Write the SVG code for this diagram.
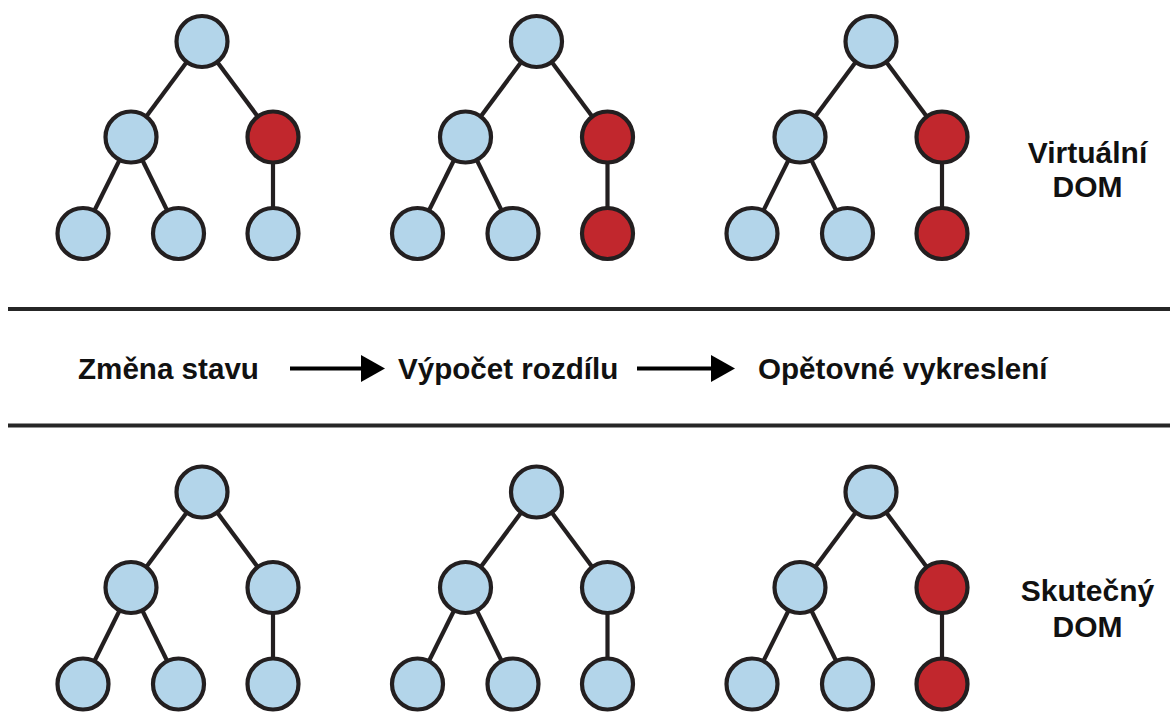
<svg xmlns="http://www.w3.org/2000/svg" width="1170" height="713" viewBox="0 0 1170 713">
<style>
.n{stroke:#231f20;stroke-width:4.2}
.b{fill:#b3d5ea}
.r{fill:#c1272d}
.e{stroke:#231f20;stroke-width:4.2;fill:none}
.sep{stroke:#262626;stroke-width:4.2}
.t{font-family:"Liberation Sans",Arial,sans-serif;font-weight:bold;font-size:29.6px;fill:#111}
.l{font-family:"Liberation Sans",Arial,sans-serif;font-weight:bold;font-size:30px;fill:#111;text-anchor:middle}
.a{stroke:#000;stroke-width:4.2;fill:none}
</style>
<defs>
<marker id="ah" viewBox="0 0 24 27" markerWidth="24" markerHeight="27" refX="9" refY="13.5" markerUnits="userSpaceOnUse" orient="auto">
<path d="M0,0 L24,13.5 L0,27 z" fill="#000"/>
</marker>
<g id="edges">
<line x1="0" y1="0" x2="-71" y2="95.5"/>
<line x1="0" y1="0" x2="71" y2="95.5"/>
<line x1="-71" y1="95.5" x2="-119" y2="192"/>
<line x1="-71" y1="95.5" x2="-23.5" y2="192"/>
<line x1="71" y1="95.5" x2="71" y2="192"/>
</g>
</defs>

<g id="connectors">
<use href="#edges" class="e" transform="translate(202,41.5)"/>
<use href="#edges" class="e" transform="translate(536.5,41.5)"/>
<use href="#edges" class="e" transform="translate(871,41.5)"/>
<use href="#edges" class="e" transform="translate(202,492)"/>
<use href="#edges" class="e" transform="translate(536.5,492)"/>
<use href="#edges" class="e" transform="translate(871,492)"/>
<line class="a" x1="290" y1="368.5" x2="370" y2="368.5" marker-end="url(#ah)"/>
<line class="a" x1="637" y1="368.5" x2="720" y2="368.5" marker-end="url(#ah)"/>
</g>

<g id="separators">
<line class="sep" x1="8" y1="309" x2="1170" y2="309"/>
<line class="sep" x1="8" y1="425.5" x2="1170" y2="425.5"/>
</g>

<!-- Virtual DOM trees -->
<g id="v1">
<circle class="n b" cx="202" cy="41.5" r="25.5"/>
<circle class="n b" cx="131" cy="137" r="25.5"/>
<circle class="n r" cx="273" cy="137" r="25.5"/>
<circle class="n b" cx="83" cy="233.5" r="25.5"/>
<circle class="n b" cx="178.5" cy="233.5" r="25.5"/>
<circle class="n b" cx="273" cy="233.5" r="25.5"/>
</g>
<g id="v2">
<circle class="n b" cx="536.5" cy="41.5" r="25.5"/>
<circle class="n b" cx="465.5" cy="137" r="25.5"/>
<circle class="n r" cx="607.5" cy="137" r="25.5"/>
<circle class="n b" cx="417.5" cy="233.5" r="25.5"/>
<circle class="n b" cx="513" cy="233.5" r="25.5"/>
<circle class="n r" cx="607.5" cy="233.5" r="25.5"/>
</g>
<g id="v3">
<circle class="n b" cx="871" cy="41.5" r="25.5"/>
<circle class="n b" cx="800" cy="137" r="25.5"/>
<circle class="n r" cx="942" cy="137" r="25.5"/>
<circle class="n b" cx="752" cy="233.5" r="25.5"/>
<circle class="n b" cx="847.5" cy="233.5" r="25.5"/>
<circle class="n r" cx="942" cy="233.5" r="25.5"/>
</g>

<!-- Real DOM trees -->
<g id="r1">
<circle class="n b" cx="202" cy="492" r="25.5"/>
<circle class="n b" cx="131" cy="587.5" r="25.5"/>
<circle class="n b" cx="273" cy="587.5" r="25.5"/>
<circle class="n b" cx="83" cy="684" r="25.5"/>
<circle class="n b" cx="178.5" cy="684" r="25.5"/>
<circle class="n b" cx="273" cy="684" r="25.5"/>
</g>
<g id="r2">
<circle class="n b" cx="536.5" cy="492" r="25.5"/>
<circle class="n b" cx="465.5" cy="587.5" r="25.5"/>
<circle class="n b" cx="607.5" cy="587.5" r="25.5"/>
<circle class="n b" cx="417.5" cy="684" r="25.5"/>
<circle class="n b" cx="513" cy="684" r="25.5"/>
<circle class="n b" cx="607.5" cy="684" r="25.5"/>
</g>
<g id="r3">
<circle class="n b" cx="871" cy="492" r="25.5"/>
<circle class="n b" cx="800" cy="587.5" r="25.5"/>
<circle class="n r" cx="942" cy="587.5" r="25.5"/>
<circle class="n b" cx="752" cy="684" r="25.5"/>
<circle class="n b" cx="847.5" cy="684" r="25.5"/>
<circle class="n r" cx="942" cy="684" r="25.5"/>
</g>

<g id="steps">
<text class="t" x="78" y="379">Změna stavu</text>
<text class="t" x="398" y="379">Výpočet rozdílu</text>
<text class="t" x="758" y="379">Opětovné vykreslení</text>
</g>

<g id="labels">
<text class="l" x="1087.5" y="162.5">Virtuální</text>
<text class="l" x="1087.5" y="197">DOM</text>
<text class="l" x="1087.5" y="601">Skutečný</text>
<text class="l" x="1087.5" y="636.5">DOM</text>
</g>
</svg>
